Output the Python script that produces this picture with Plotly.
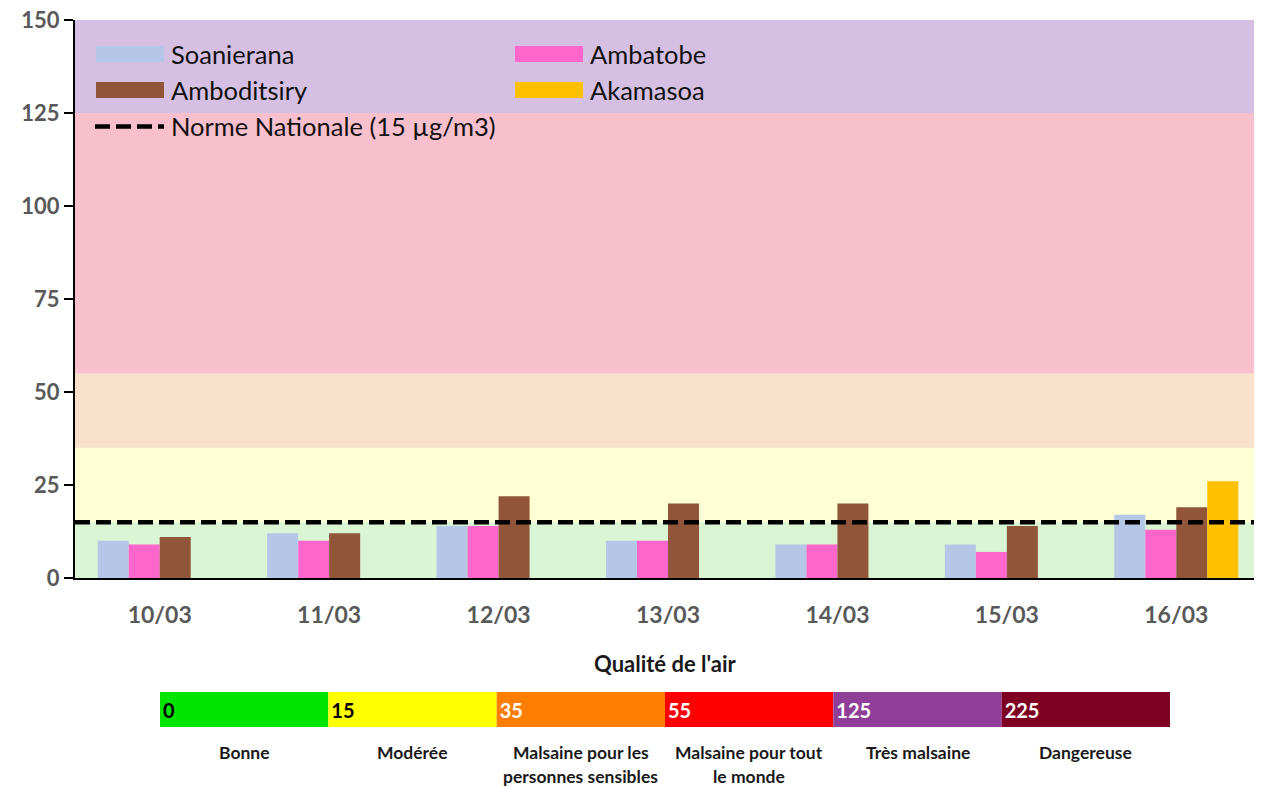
import plotly.graph_objects as go

# ---------------- data ----------------
DATES = ["10/03", "11/03", "12/03", "13/03", "14/03", "15/03", "16/03"]
SOANIERANA = [10, 12, 14, 10, 9, 9, 17]
AMBATOBE = [9, 10, 14, 10, 9, 7, 13]
AMBODITSIRY = [11, 12, 22, 20, 20, 14, 19]
AKAMASOA = [None, None, None, None, None, None, 26]
NORME = 15
NORME_LABEL = "Norme Nationale (15 µg/m3)"

SERIES_NAMES = ["Soanierana", "Ambatobe", "Amboditsiry", "Akamasoa"]
SERIES_COLORS = ["#b4c7e7", "#ff66cc", "#91553a", "#ffc000"]

BAND_EDGES = [0, 15, 35, 55, 125, 150]
BAND_COLORS = ["#daf5d4", "#ffffd5", "#f9e0cb", "#f8bfcc", "#d5c0e3"]

Y_TICKS = [0, 25, 50, 75, 100, 125, 150]

SCALE_TITLE = "Qualité de l'air"
SCALE_THRESHOLDS = ["0", "15", "35", "55", "125", "225"]
SCALE_LABELS = ["Bonne", "Modérée", "Malsaine pour les\npersonnes sensibles",
                "Malsaine pour tout\nle monde", "Très malsaine", "Dangereuse"]
SCALE_COLORS = ["#00e400", "#ffff00", "#ff7e00", "#ff0000", "#8f3f97", "#7e0023"]
SCALE_TEXT_COLORS = ["#000000", "#000000", "#ffffff", "#ffffff", "#ffffff", "#ffffff"]

# ---------------- layout helpers (page pixel -> paper) ----------------
OFF = 8  # page body margin
W, H = 1262 - OFF, 787 - OFF
ML, MR, MT, MB = 75 - OFF, 1, 20 - OFF, 0
PW, PH = W - ML - MR, H - MT - MB


def px(xp):
    return (xp - OFF - ML) / PW


def py(yp):
    return (H - MB - (yp - OFF)) / PH


FONT = "Lato"
GRAY = "#595959"

fig = go.Figure()

series_vals = [SOANIERANA, AMBATOBE, AMBODITSIRY, AKAMASOA]
for name, vals, col in zip(SERIES_NAMES, series_vals, SERIES_COLORS):
    fig.add_trace(go.Bar(x=DATES, y=vals, name=name, marker_color=col,
                         marker_line_width=0, showlegend=False,
                         xaxis="x", yaxis="y"))

# air quality scale bar
fig.add_trace(go.Bar(
    orientation="h", x=[1] * len(SCALE_COLORS), base=list(range(len(SCALE_COLORS))),
    y=[0] * len(SCALE_COLORS), width=1, marker_color=SCALE_COLORS, marker_line_width=0,
    text=SCALE_THRESHOLDS, textposition="inside", insidetextanchor="start",
    textangle=0, constraintext="none",
    textfont=dict(family=FONT, size=20, weight="bold", color=SCALE_TEXT_COLORS),
    xaxis="x2", yaxis="y2", showlegend=False, hoverinfo="skip"))

shapes = []
# background bands
for i, col in enumerate(BAND_COLORS):
    shapes.append(dict(type="rect", xref="x domain", yref="y", x0=0, x1=1,
                       y0=BAND_EDGES[i], y1=BAND_EDGES[i + 1], fillcolor=col,
                       line_width=0, layer="below"))
# national norm line
shapes.append(dict(type="line", xref="x domain", yref="y", x0=0, x1=1, y0=NORME, y1=NORME,
                   line=dict(color="black", width=4.5, dash="15px,6px"), layer="above"))

annotations = []
# manual legend
leg_cols = [96, 515]
leg_rows = [54, 90, 126.5]
for i, (name, col) in enumerate(zip(SERIES_NAMES, SERIES_COLORS)):
    cx = leg_cols[i % 2]
    cy = leg_rows[i // 2]
    shapes.append(dict(type="rect", xref="paper", yref="paper",
                       x0=px(cx), x1=px(cx + 68), y0=py(cy + 8), y1=py(cy - 8),
                       fillcolor=col, line_width=0))
    annotations.append(dict(text=name, xref="paper", yref="paper", x=px(cx + 73), y=py(cy),
                            xanchor="left", yanchor="middle", showarrow=False,
                            font=dict(family=FONT, size=25.5, color="#111111")))
shapes.append(dict(type="line", xref="paper", yref="paper", x0=px(95), x1=px(164),
                   y0=py(leg_rows[2]), y1=py(leg_rows[2]),
                   line=dict(color="black", width=4.5, dash="15px,6px")))
annotations.append(dict(text=NORME_LABEL, xref="paper", yref="paper", x=px(169), y=py(leg_rows[2]),
                        xanchor="left", yanchor="middle", showarrow=False,
                        font=dict(family=FONT, size=25.5, color="#111111")))

# scale title and labels
annotations.append(dict(text="<b>" + SCALE_TITLE + "</b>", xref="x2", yref="paper",
                        x=len(SCALE_COLORS) / 2, y=py(663), xanchor="center", yanchor="middle",
                        showarrow=False, font=dict(family=FONT, size=22, color="#1a1a1a")))
for i, lab in enumerate(SCALE_LABELS):
    for j, line in enumerate(lab.split("\n")):
        annotations.append(dict(text="<b>" + line + "</b>", xref="x2", yref="paper",
                                x=i + 0.5, y=py(752 + 24 * j), xanchor="center",
                                yanchor="middle", showarrow=False,
                                font=dict(family=FONT, size=17.5, color="#1a1a1a")))

fig.update_layout(
    width=W, height=H,
    margin=dict(l=ML, r=MR, t=MT, b=MB, autoexpand=False),
    paper_bgcolor="white", plot_bgcolor="white",
    barmode="group", bargap=0.268, bargroupgap=0,
    shapes=shapes, annotations=annotations,
    xaxis=dict(domain=[0, 1], anchor="y", type="category", showline=True, linecolor="black",
               linewidth=2, ticks="", showgrid=False, ticklabelstandoff=15,
               tickfont=dict(family=FONT, size=23, weight="bold", color=GRAY)),
    yaxis=dict(domain=[py(578), 1], anchor="x", range=[0, 150], tickvals=Y_TICKS,
               showline=True, linecolor="black", linewidth=2, ticks="outside", ticklen=9,
               tickwidth=2, tickcolor="black", showgrid=False, zeroline=False,
               ticklabeloverflow="allow",
               tickfont=dict(family=FONT, size=22, weight="bold", color=GRAY)),
    xaxis2=dict(domain=[px(160), px(1170)], anchor="y2", range=[0, len(SCALE_COLORS)],
                visible=False, fixedrange=True),
    yaxis2=dict(domain=[py(727), py(692)], anchor="x2", range=[-0.5, 0.5],
                visible=False, fixedrange=True),
)

fig.write_html("out.html")
